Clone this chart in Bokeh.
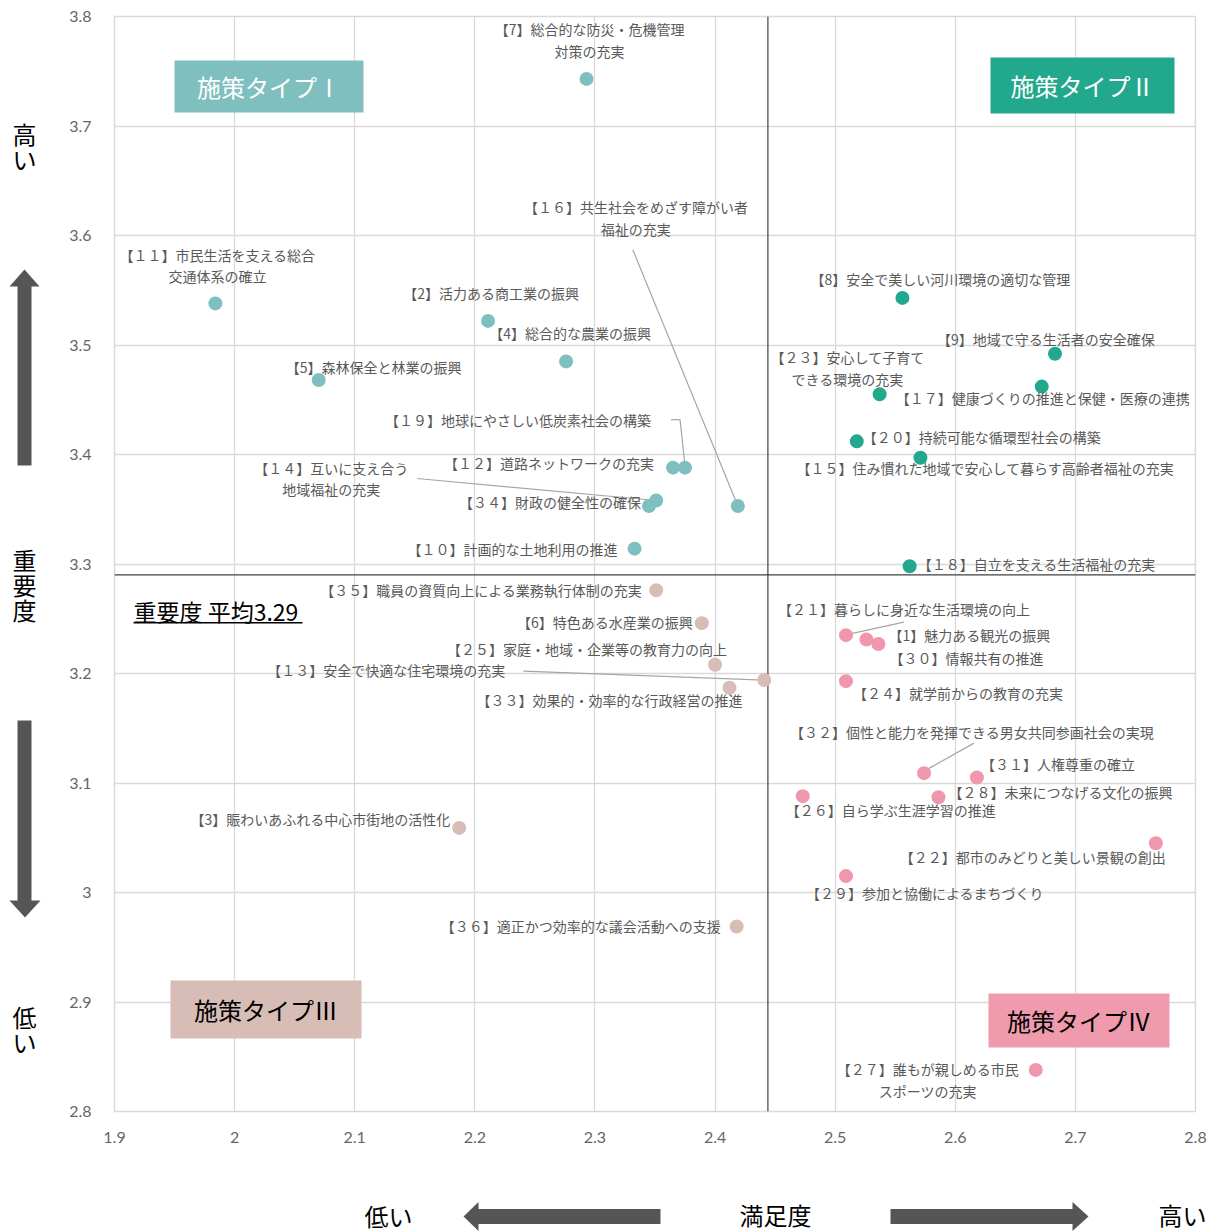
from bokeh.plotting import figure
from bokeh.layouts import column, row
from bokeh.models import (ColumnDataSource, Span, Label, BoxAnnotation,
                          FixedTicker, CustomJSTickFormatter)
from bokeh.core.properties import value
from bokeh.embed import file_html
from bokeh.resources import INLINE

# ---------------- data ----------------
x_ticks = [1.9, 2.0, 2.1, 2.2, 2.3, 2.4, 2.5, 2.6, 2.7, 2.8]
y_ticks = [2.8, 2.9, 3.0, 3.1, 3.2, 3.3, 3.4, 3.5, 3.6, 3.7, 3.8]
avg_satisfaction = 2.444
avg_importance = 3.29

type1_ids = [7, 11, 2, 4, 5, 12, 19, 14, 34, 16, 10]
type1_satisfaction = [2.293, 1.984, 2.211, 2.276, 2.070, 2.365, 2.375, 2.351, 2.345, 2.419, 2.333]
type1_importance = [3.743, 3.538, 3.522, 3.485, 3.468, 3.388, 3.388, 3.358, 3.353, 3.353, 3.314]

type2_ids = [8, 9, 17, 23, 20, 15, 18]
type2_satisfaction = [2.556, 2.683, 2.672, 2.537, 2.518, 2.571, 2.562]
type2_importance = [3.543, 3.492, 3.462, 3.455, 3.412, 3.397, 3.298]

type3_ids = [35, 6, 25, 13, 33, 3, 36]
type3_satisfaction = [2.351, 2.389, 2.400, 2.441, 2.412, 2.187, 2.418]
type3_importance = [3.276, 3.246, 3.208, 3.194, 3.187, 3.059, 2.969]

type4_ids = [21, 1, 30, 24, 32, 31, 26, 28, 22, 29, 27]
type4_satisfaction = [2.509, 2.526, 2.536, 2.509, 2.574, 2.618, 2.473, 2.586, 2.767, 2.509, 2.667]
type4_importance = [3.235, 3.231, 3.227, 3.193, 3.109, 3.105, 3.088, 3.087, 3.045, 3.015, 2.838]

policy_names = {
    7: "【7】総合的な防災・危機管理\n対策の充実",
    11: "【１１】市民生活を支える総合\n交通体系の確立",
    2: "【2】活力ある商工業の振興",
    4: "【4】総合的な農業の振興",
    5: "【5】森林保全と林業の振興",
    12: "【１２】道路ネットワークの充実",
    19: "【１９】地球にやさしい低炭素社会の構築",
    14: "【１４】互いに支え合う\n地域福祉の充実",
    34: "【３４】財政の健全性の確保",
    16: "【１６】共生社会をめざす障がい者\n福祉の充実",
    10: "【１０】計画的な土地利用の推進",
    8: "【8】安全で美しい河川環境の適切な管理",
    9: "【9】地域で守る生活者の安全確保",
    17: "【１７】健康づくりの推進と保健・医療の連携",
    23: "【２３】安心して子育て\nできる環境の充実",
    20: "【２０】持続可能な循環型社会の構築",
    15: "【１５】住み慣れた地域で安心して暮らす高齢者福祉の充実",
    18: "【１８】自立を支える生活福祉の充実",
    35: "【３５】職員の資質向上による業務執行体制の充実",
    6: "【6】特色ある水産業の振興",
    25: "【２５】家庭・地域・企業等の教育力の向上",
    13: "【１３】安全で快適な住宅環境の充実",
    33: "【３３】効果的・効率的な行政経営の推進",
    3: "【3】賑わいあふれる中心市街地の活性化",
    36: "【３６】適正かつ効率的な議会活動への支援",
    21: "【２１】暮らしに身近な生活環境の向上",
    1: "【1】魅力ある観光の振興",
    30: "【３０】情報共有の推進",
    24: "【２４】就学前からの教育の充実",
    32: "【３２】個性と能力を発揮できる男女共同参画社会の実現",
    31: "【３１】人権尊重の確立",
    28: "【２８】未来につなげる文化の振興",
    26: "【２６】自ら学ぶ生涯学習の推進",
    22: "【２２】都市のみどりと美しい景観の創出",
    29: "【２９】参加と協働によるまちづくり",
    27: "【２７】誰もが親しめる市民\nスポーツの充実",
}
type_titles = ["施策タイプⅠ", "施策タイプⅡ", "施策タイプⅢ", "施策タイプⅣ"]
axis_y_words = [("高", "い"), ("重", "要", "度"), ("低", "い")]
axis_x_words = ["低い", "満足度", "高い"]

# ---------------- layout (pixel offsets of labels from their point) ----------------
label_layout = {
    7: (3, -39, "center"), 11: (2, -38, "center"), 2: (3, -28, "center"), 4: (4, -28, "center"),
    5: (55, -13, "center"), 12: (-19, -5, "right"), 19: (-34, -48, "right"),
    14: (-325, -22, "center"), 34: (-8, -4, "right"), 16: (-102, -288, "center"),
    10: (-17, 0, "right"),
    8: (38, -19, "center"), 9: (-9, -15, "center"), 17: (1, 11, "center"),
    23: (-32, -26, "center"), 20: (6, -4, "left"), 15: (65, 10, "center"), 18: (8, -2, "left"),
    35: (-14, 0, "right"), 6: (-9, -1, "right"), 25: (12, -16, "right"), 13: (-259, -10, "right"),
    33: (13, 12, "right"), 3: (-9, -9, "right"), 36: (-16, 0, "right"),
    21: (-68, -26, "left"), 1: (22, -5, "left"), 30: (11, 14, "left"), 24: (7, 12, "left"),
    32: (-134, -41, "left"), 31: (4, -14, "left"), 28: (10, -5, "left"), 26: (-17, 14, "left"),
    22: (10, 14, "right"), 29: (-40, 17, "left"), 27: (-108, 10, "center"),
}
leader_paths = {
    19: [(-14, -48), (-5, -48), (0, -2)],
    14: [(-239, -22), (0, 0)],
    16: [(-105, -256), (0, 0)],
    13: [(-241, -9), (0, 0)],
    21: [(58, -13), (3, -1)],
    32: [(50, -30), (0, -2)],
}

PAGE_W, PAGE_H = 1218, 1232
LEFT_W = 50          # width of the strip with the vertical axis words/arrows
MAIN_H = 1160        # height of main chart canvas
TOP_B = 16           # main chart top border
FRAME_W, FRAME_H = 1081, 1095
X0, X1 = x_ticks[0], x_ticks[-1]
Y0, Y1 = y_ticks[0], y_ticks[-1]
PX_X = FRAME_W / (X1 - X0)
PX_Y = FRAME_H / (Y1 - Y0)

colors = ["#80bfbf", "#22a88c", "#d7bdb6", "#f097ad"]
box_colors = ["#80bfbf", "#22a88c", "#d7bdb6", "#f09aae"]
title_text_colors = ["white", "white", "black", "black"]
FONT = "Noto Sans CJK JP"

# ---------------- main chart ----------------
p = figure(frame_width=FRAME_W, frame_height=FRAME_H, x_range=(X0, X1), y_range=(Y0, Y1),
           output_backend="svg", toolbar_location=None,
           min_border_left=64, min_border_right=23, min_border_top=TOP_B, min_border_bottom=49)
p.background_fill_color = "white"
p.border_fill_color = "white"
p.outline_line_color = "#d9d9d9"
p.outline_line_width = 1.5

p.xaxis.ticker = FixedTicker(ticks=x_ticks)
p.yaxis.ticker = FixedTicker(ticks=y_ticks)
fmt = "return String(Math.round(tick * 10) / 10);"
p.xaxis.formatter = CustomJSTickFormatter(code=fmt)
p.yaxis.formatter = CustomJSTickFormatter(code=fmt)
for ax in (p.xaxis, p.yaxis):
    ax.axis_line_color = None
    ax.major_tick_line_color = None
    ax.minor_tick_line_color = None
    ax.major_label_text_color = "#666666"
    ax.major_label_text_font = "Lato"
    ax.major_label_text_font_size = "16px"
p.xaxis.major_label_standoff = 14
p.yaxis.major_label_standoff = 17
p.grid.grid_line_color = "#d9d9d9"
p.grid.grid_line_width = 1.3

p.add_layout(Span(location=avg_satisfaction, dimension="height", line_color="#404040",
                  line_width=1.2, level="underlay"))
p.add_layout(Span(location=avg_importance, dimension="width", line_color="#404040",
                  line_width=1.2, level="underlay"))

all_groups = [
    (type1_ids, type1_satisfaction, type1_importance),
    (type2_ids, type2_satisfaction, type2_importance),
    (type3_ids, type3_satisfaction, type3_importance),
    (type4_ids, type4_satisfaction, type4_importance),
]
pos = {}
for ids, xs, ys in all_groups:
    for i, xv, yv in zip(ids, xs, ys):
        pos[i] = (xv, yv)

# leader lines
lx, ly = [], []
for i, path in leader_paths.items():
    xv, yv = pos[i]
    lx.append([xv + dx / PX_X for dx, dy in path])
    ly.append([yv - dy / PX_Y for dx, dy in path])
p.multi_line(lx, ly, line_color="#a6a6a6", line_width=1.2)

# points
for (ids, xs, ys), c in zip(all_groups, colors):
    p.scatter(xs, ys, size=14, fill_color=c, line_color=None)

# labels
for align in ("left", "center", "right"):
    d = dict(x=[], y=[], text=[], dx=[], dy=[])
    for i, (dx, dy, a) in label_layout.items():
        if a != align:
            continue
        d["x"].append(pos[i][0]); d["y"].append(pos[i][1])
        d["text"].append(policy_names[i]); d["dx"].append(dx); d["dy"].append(dy)
    p.text(x="x", y="y", text="text", x_offset="dx", y_offset="dy", source=ColumnDataSource(d),
           text_align=align, text_baseline="middle", text_font=value(FONT),
           text_font_size="14px", text_color="#595959", text_line_height=1.08)

# quadrant title boxes (canvas px of the main chart)
title_boxes = [(124, 313, 60, 112), (940, 1124, 57, 113), (120, 311, 980, 1038), (938, 1119, 993, 1047)]
for (l, r, t, b), fc, tc, txt in zip(title_boxes, box_colors, title_text_colors, type_titles):
    p.add_layout(BoxAnnotation(left=l, right=r, top=t, bottom=b, left_units="canvas",
                               right_units="canvas", top_units="canvas", bottom_units="canvas",
                               fill_color=fc, fill_alpha=1, line_color=None, level="overlay"))
    p.add_layout(Label(x=(l + r) / 2, y=(t + b) / 2, x_units="canvas", y_units="canvas", text=txt,
                       text_align="center", text_baseline="middle", text_color=tc,
                       text_font=FONT, text_font_size="24px", level="overlay"))

# average label with underline
p.add_layout(Label(x=83, y=610, x_units="canvas", y_units="canvas",
                   text=f"重要度 平均{avg_importance:.2f}", text_align="left", text_baseline="middle",
                   text_color="black", text_font=FONT, text_font_size="23px"))
p.add_layout(BoxAnnotation(left=83, right=252, top=621.5, bottom=623, left_units="canvas",
                           right_units="canvas", top_units="canvas", bottom_units="canvas",
                           fill_color="black", fill_alpha=1, line_color=None))


def strip(w, h, xr, yr):
    f = figure(width=w, height=h, x_range=xr, y_range=yr, x_axis_type=None, y_axis_type=None,
               output_backend="svg", toolbar_location=None, min_border=0)
    f.outline_line_color = None
    f.background_fill_color = "white"
    f.border_fill_color = "white"
    f.grid.visible = False
    return f


arrow_color = "#555555"

# ---------------- left strip (page pixel coordinates; its frame aligns with the main frame) ----------------
left = strip(LEFT_W, MAIN_H, (0, LEFT_W), (TOP_B + FRAME_H, TOP_B))
vy_chars, vy_x, vy_y = [], [], []
for word, y_start in zip(axis_y_words, [133, 559, 1016]):
    for k, ch in enumerate(word):
        vy_chars.append(ch); vy_x.append(24); vy_y.append(y_start + k * 25)
left.text(x=vy_x, y=vy_y, text=vy_chars, text_align="center", text_baseline="middle",
          text_font=value(FONT), text_font_size="24px", text_color="black")
left.patches(
    [[24, 39, 31, 31, 17, 17, 9], [17, 31, 31, 40, 24.5, 9, 17]],
    [[269, 286, 286, 465, 465, 286, 286], [720, 720, 900, 900, 917, 900, 900]],
    fill_color=arrow_color, line_color=None)

# ---------------- bottom strip (page pixel coordinates) ----------------
bottom = strip(PAGE_W, PAGE_H - MAIN_H, (0, PAGE_W), (PAGE_H, MAIN_H))
bottom.text(x=[388, 775, 1182], y=[1215, 1214, 1214], text=axis_x_words, text_align="center",
            text_baseline="middle", text_font=value(FONT), text_font_size="24px", text_color="black")
bottom.patches(
    [[463, 478, 478, 660, 660, 478, 478], [890, 1072, 1072, 1088, 1072, 1072, 890]],
    [[1216, 1201.5, 1208.5, 1208.5, 1223.5, 1223.5, 1230.5],
     [1208.5, 1208.5, 1201.5, 1216, 1230.5, 1223.5, 1223.5]],
    fill_color=arrow_color, line_color=None)

layout = column(row(left, p, spacing=0), bottom, spacing=0)
open("out.html", "w").write(file_html(layout, INLINE))
